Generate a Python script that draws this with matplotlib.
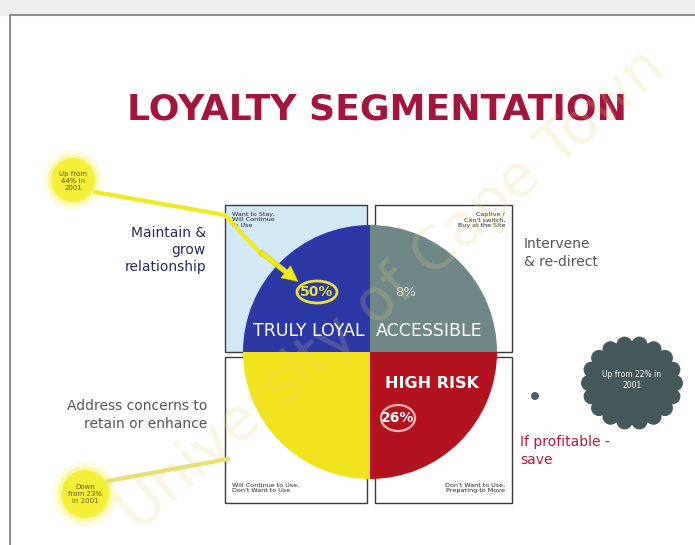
import numpy as np
import matplotlib.pyplot as plt
from matplotlib.patches import Rectangle, Ellipse, Circle

# segments (quadrants are drawn equal, labels carry the share)
segments = ["TRULY LOYAL", "", "HIGH RISK", "ACCESSIBLE"]
share_pct = [50, 16, 26, 8]
quadrant_size = [1, 1, 1, 1]
pie_colors = ["#2b38a6", "#f2e41c", "#b3121f", "#6f8787"]

box_captions = ["Want to Stay,\nWill Continue\nto Use",
                "Captive /\nCan't switch,\nBuy at the Site",
                "Will Continue to Use,\nDon't Want to Use",
                "Don't Want to Use,\nPreparing to Move"]

W, H = 695, 545
fig = plt.figure(figsize=(6.95, 5.45), dpi=100)
ax = fig.add_axes([0, 0, 1, 1])

def Y(y):
    return H - y

# slide frame
ax.add_patch(Rectangle((0, Y(15)), W, 15, color="#efefef", zorder=0))
ax.add_patch(Rectangle((10, Y(560)), 720, 545, fill=False, ec="#7a7a7a", lw=1.2, zorder=1))

ax.text(377, Y(110), "LOYALTY SEGMENTATION", ha="center", va="center",
        fontsize=26, fontweight="bold", color="#a3153f", zorder=3)

# quadrant boxes
boxes = [(225, 205, 142, 147, "#d3e8f5"), (375, 205, 137, 147, "white"),
         (225, 357, 142, 146, "white"), (375, 357, 137, 146, "white")]
for (x, y, w, h, fc) in boxes:
    ax.add_patch(Rectangle((x, Y(y + h)), w, h, fc=fc, ec="#3a3a3a", lw=1.0, zorder=2))

caption_pos = [(232, 212, "left"), (505, 212, "right"), (232, 483, "left"), (505, 483, "right")]
for (x, y, ha), cap in zip(caption_pos, box_captions):
    ax.text(x, Y(y), cap, ha=ha, va="top", fontsize=4.6, color="#222222", zorder=3,
            linespacing=1.1)

# pie of four quadrants
cx, cy, r = 370, 352, 127
ax.pie(quadrant_size, colors=pie_colors, startangle=90, counterclock=True,
       center=(cx, Y(cy)), radius=r, frame=True,
       wedgeprops=dict(linewidth=0, zorder=4))

# segment labels
ax.text(309, Y(331), segments[0], ha="center", va="center", fontsize=12.5,
        color="white", zorder=6)
ax.text(429, Y(331), segments[3], ha="center", va="center", fontsize=12.5,
        color="white", zorder=6)
ax.text(432, Y(383), segments[2], ha="center", va="center", fontsize=11.5,
        fontweight="bold", color="white", zorder=6)

ax.add_patch(Ellipse((317, Y(292)), 40, 22, fill=False, ec="#e9e23a", lw=2, zorder=6))
ax.text(317, Y(292), f"{share_pct[0]}%", ha="center", va="center", fontsize=10,
        fontweight="bold", color="#e9e23a", zorder=7)
ax.text(406, Y(292), f"{share_pct[3]}%", ha="center", va="center", fontsize=9.5,
        color="#e0e0e0", zorder=7)
ax.add_patch(Ellipse((398, Y(418)), 34, 26, fill=False, ec="#f2b8b8", lw=1.6, zorder=6))
ax.text(398, Y(418), f"{share_pct[2]}%", ha="center", va="center", fontsize=10,
        fontweight="bold", color="white", zorder=7)

# side notes
ax.text(206, Y(250), "Maintain &\ngrow\nrelationship", ha="right", va="center",
        fontsize=10, color="#2a2a5a", linespacing=1.3, zorder=3)
ax.text(524, Y(253), "Intervene\n& re-direct", ha="left", va="center",
        fontsize=10, color="#555555", linespacing=1.3, zorder=3)
ax.text(207, Y(415), "Address concerns to\nretain or enhance", ha="right", va="center",
        fontsize=10, color="#555555", linespacing=1.3, zorder=3)
ax.text(520, Y(451), "If profitable -\nsave", ha="left", va="center",
        fontsize=10, color="#b3163f", linespacing=1.4, zorder=3)

# yellow glow notes
def glow(x, y, rad):
    for k, a in zip([1.35, 1.15, 1.0], [0.15, 0.35, 1.0]):
        ax.add_patch(Circle((x, Y(y)), rad * k, color="#f5ef3a", alpha=a, lw=0, zorder=2))

glow(73, 180, 22)
ax.text(73, Y(181), "Up from\n44% in\n2001", ha="center", va="center", fontsize=5,
        color="#6b5a10", zorder=3, linespacing=1.2)
glow(85, 494, 24)
ax.text(85, Y(494), "Down\nfrom 23%\nin 2001", ha="center", va="center", fontsize=5,
        color="#6b5a10", zorder=3, linespacing=1.2)

# yellow connectors
ax.plot([95, 225, 262], [Y(192), Y(215), Y(255)], color="#f0ea20", lw=3,
        solid_capstyle="round", zorder=8)
ax.annotate("", xy=(300, Y(283)), xytext=(258, Y(250)), zorder=8,
            arrowprops=dict(arrowstyle="simple,head_length=1.1,head_width=1.1,tail_width=0.35",
                            fc="#f0ea20", ec="#d8d000", lw=0.5))
ax.plot([108, 228], [Y(481), Y(459)], color="#e8e070", lw=3, zorder=3)

# dark cloud note
ccx, ccy = 632, 383
ax.add_patch(Ellipse((ccx, Y(ccy)), 92, 84, color="#46595a", lw=0, zorder=3))
for t in np.linspace(0, 2 * np.pi, 18, endpoint=False):
    ax.add_patch(Circle((ccx + 43 * np.cos(t), Y(ccy + 39 * np.sin(t))), 8,
                        color="#46595a", lw=0, zorder=3))
ax.text(ccx, Y(ccy - 3), "Up from 22% in\n2001", ha="center", va="center",
        fontsize=5.5, color="white", zorder=4, linespacing=1.3)
ax.add_patch(Circle((535, Y(396)), 4, color="#4d5d5d", lw=0, zorder=3))

# watermark
ax.text(392, Y(290), "University of Cape Town", rotation=41, ha="center", va="center",
        fontsize=42, color="#e3d57a", alpha=0.2, zorder=9)

ax.set_xlim(0, W)
ax.set_ylim(0, H)
ax.set_aspect("equal")
ax.axis("off")

fig.savefig("out.png", dpi=100, facecolor="white")
